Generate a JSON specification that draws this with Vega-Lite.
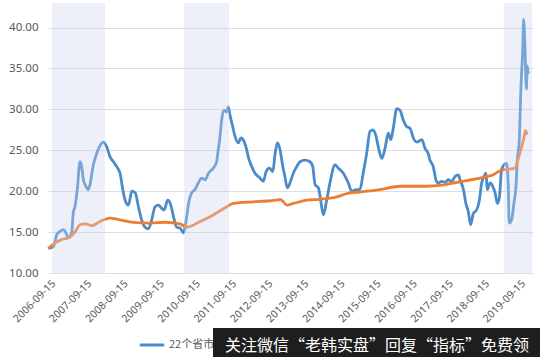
{
  "$schema": "https://vega.github.io/schema/vega-lite/v6.json",
  "width": 485,
  "height": 270,
  "autosize": "none",
  "padding": {"left": 48, "top": 3, "right": 7, "bottom": 84},
  "background": "white",
  "config": {"view": {"stroke": null}, "font": "Noto Sans", "axisX": {"labelOverlap": false}},
  "encoding": {
    "x": {
      "field": "d", "type": "temporal",
      "scale": {"type": "utc", "domain": [{"year": 2006, "month": 8, "date": 25, "utc": true}, {"year": 2020, "month": 1, "date": 25, "utc": true}]},
      "axis": {
        "title": null, "grid": false, "ticks": false, "domain": false,
        "labelOverlap": false, "labelBound": false,
        "values": [
          "2006-09-15", "2007-09-15", "2008-09-15", "2009-09-15", "2010-09-15",
          "2011-09-15", "2012-09-15", "2013-09-15", "2014-09-15", "2015-09-15",
          "2016-09-15", "2017-09-15", "2018-09-15", "2019-09-15"
        ],
        "format": "%Y-%m-%d", "labelAngle": -45, "labelFontSize": 10.5,
        "labelColor": "#595959", "labelPadding": 5, "labelFont": "Noto Sans"
      }
    }
  },
  "layer": [
    {
      "data": {"values": [
        {"d": "2006-08-28", "v": 13.0, "s": "22个省市生猪平均价格"},
        {"d": "2006-10-18", "v": 13.2, "s": "22个省市生猪平均价格"},
        {"d": "2006-11-22", "v": 14.7, "s": "22个省市生猪平均价格"},
        {"d": "2006-12-25", "v": 15.1, "s": "22个省市生猪平均价格"},
        {"d": "2007-01-28", "v": 15.3, "s": "22个省市生猪平均价格"},
        {"d": "2007-03-02", "v": 14.7, "s": "22个省市生猪平均价格"},
        {"d": "2007-03-18", "v": 14.3, "s": "22个省市生猪平均价格"},
        {"d": "2007-04-21", "v": 14.9, "s": "22个省市生猪平均价格"},
        {"d": "2007-05-07", "v": 17.3, "s": "22个省市生猪平均价格"},
        {"d": "2007-05-24", "v": 18.1, "s": "22个省市生猪平均价格"},
        {"d": "2007-06-17", "v": 20.2, "s": "22个省市生猪平均价格"},
        {"d": "2007-07-14", "v": 23.6, "s": "22个省市生猪平均价格"},
        {"d": "2007-08-01", "v": 23.0, "s": "22个省市生猪平均价格"},
        {"d": "2007-08-17", "v": 21.4, "s": "22个省市生猪平均价格"},
        {"d": "2007-09-04", "v": 20.8, "s": "22个省市生猪平均价格"},
        {"d": "2007-10-06", "v": 20.2, "s": "22个省市生猪平均价格"},
        {"d": "2007-10-23", "v": 20.8, "s": "22个省市生猪平均价格"},
        {"d": "2007-11-26", "v": 23.2, "s": "22个省市生猪平均价格"},
        {"d": "2007-12-30", "v": 24.6, "s": "22个省市生猪平均价格"},
        {"d": "2008-02-03", "v": 25.6, "s": "22个省市生猪平均价格"},
        {"d": "2008-03-06", "v": 26.0, "s": "22个省市生猪平均价格"},
        {"d": "2008-04-10", "v": 25.4, "s": "22个省市生猪平均价格"},
        {"d": "2008-05-13", "v": 24.2, "s": "22个省市生猪平均价格"},
        {"d": "2008-06-16", "v": 23.6, "s": "22个省市生猪平均价格"},
        {"d": "2008-07-19", "v": 23.0, "s": "22个省市生猪平均价格"},
        {"d": "2008-08-22", "v": 22.2, "s": "22个省市生猪平均价格"},
        {"d": "2008-09-19", "v": 20.2, "s": "22个省市生猪平均价格"},
        {"d": "2008-10-12", "v": 18.9, "s": "22个省市生猪平均价格"},
        {"d": "2008-11-15", "v": 18.3, "s": "22个省市生猪平均价格"},
        {"d": "2008-12-19", "v": 20.0, "s": "22个省市生猪平均价格"},
        {"d": "2009-01-22", "v": 19.8, "s": "22个省市生猪平均价格"},
        {"d": "2009-02-24", "v": 18.1, "s": "22个省市生猪平均价格"},
        {"d": "2009-03-28", "v": 16.5, "s": "22个省市生猪平均价格"},
        {"d": "2009-05-01", "v": 15.6, "s": "22个省市生猪平均价格"},
        {"d": "2009-06-04", "v": 15.4, "s": "22个省市生猪平均价格"},
        {"d": "2009-07-08", "v": 16.5, "s": "22个省市生猪平均价格"},
        {"d": "2009-08-11", "v": 18.1, "s": "22个省市生猪平均价格"},
        {"d": "2009-09-14", "v": 18.3, "s": "22个省市生猪平均价格"},
        {"d": "2009-10-17", "v": 17.9, "s": "22个省市生猪平均价格"},
        {"d": "2009-11-10", "v": 17.7, "s": "22个省市生猪平均价格"},
        {"d": "2009-12-17", "v": 18.9, "s": "22个省市生猪平均价格"},
        {"d": "2010-01-17", "v": 18.3, "s": "22个省市生猪平均价格"},
        {"d": "2010-02-13", "v": 16.9, "s": "22个省市生猪平均价格"},
        {"d": "2010-03-17", "v": 15.6, "s": "22个省市生猪平均价格"},
        {"d": "2010-04-20", "v": 15.5, "s": "22个省市生猪平均价格"},
        {"d": "2010-05-23", "v": 14.9, "s": "22个省市生猪平均价格"},
        {"d": "2010-06-27", "v": 16.9, "s": "22个省市生猪平均价格"},
        {"d": "2010-07-13", "v": 18.3, "s": "22个省市生猪平均价格"},
        {"d": "2010-08-16", "v": 19.8, "s": "22个省市生猪平均价格"},
        {"d": "2010-09-19", "v": 20.2, "s": "22个省市生猪平均价格"},
        {"d": "2010-10-22", "v": 21.0, "s": "22个省市生猪平均价格"},
        {"d": "2010-11-26", "v": 21.6, "s": "22个省市生猪平均价格"},
        {"d": "2010-12-29", "v": 21.4, "s": "22个省市生猪平均价格"},
        {"d": "2011-02-01", "v": 22.2, "s": "22个省市生猪平均价格"},
        {"d": "2011-03-22", "v": 22.8, "s": "22个省市生猪平均价格"},
        {"d": "2011-04-25", "v": 23.6, "s": "22个省市生猪平均价格"},
        {"d": "2011-05-11", "v": 25.0, "s": "22个省市生猪平均价格"},
        {"d": "2011-05-28", "v": 26.5, "s": "22个省市生猪平均价格"},
        {"d": "2011-06-15", "v": 28.7, "s": "22个省市生猪平均价格"},
        {"d": "2011-07-08", "v": 29.9, "s": "22个省市生猪平均价格"},
        {"d": "2011-08-05", "v": 29.7, "s": "22个省市生猪平均价格"},
        {"d": "2011-08-21", "v": 30.3, "s": "22个省市生猪平均价格"},
        {"d": "2011-09-07", "v": 29.3, "s": "22个省市生猪平均价格"},
        {"d": "2011-10-04", "v": 27.9, "s": "22个省市生猪平均价格"},
        {"d": "2011-10-28", "v": 26.7, "s": "22个省市生猪平均价格"},
        {"d": "2011-11-30", "v": 25.9, "s": "22个省市生猪平均价格"},
        {"d": "2011-12-27", "v": 26.5, "s": "22个省市生猪平均价格"},
        {"d": "2012-01-30", "v": 26.0, "s": "22个省市生猪平均价格"},
        {"d": "2012-02-24", "v": 25.0, "s": "22个省市生猪平均价格"},
        {"d": "2012-03-10", "v": 24.2, "s": "22个省市生猪平均价格"},
        {"d": "2012-04-14", "v": 23.0, "s": "22个省市生猪平均价格"},
        {"d": "2012-05-17", "v": 22.2, "s": "22个省市生猪平均价格"},
        {"d": "2012-07-06", "v": 21.6, "s": "22个省市生猪平均价格"},
        {"d": "2012-08-09", "v": 21.2, "s": "22个省市生猪平均价格"},
        {"d": "2012-09-06", "v": 22.4, "s": "22个省市生猪平均价格"},
        {"d": "2012-10-09", "v": 22.8, "s": "22个省市生猪平均价格"},
        {"d": "2012-11-13", "v": 22.4, "s": "22个省市生猪平均价格"},
        {"d": "2012-12-06", "v": 24.6, "s": "22个省市生猪平均价格"},
        {"d": "2012-12-29", "v": 25.9, "s": "22个省市生猪平均价格"},
        {"d": "2013-01-26", "v": 25.0, "s": "22个省市生猪平均价格"},
        {"d": "2013-02-22", "v": 23.0, "s": "22个省市生猪平均价格"},
        {"d": "2013-03-15", "v": 21.8, "s": "22个省市生猪平均价格"},
        {"d": "2013-04-08", "v": 20.4, "s": "22个省市生猪平均价格"},
        {"d": "2013-05-05", "v": 21.0, "s": "22个省市生猪平均价格"},
        {"d": "2013-06-08", "v": 22.2, "s": "22个省市生猪平均价格"},
        {"d": "2013-07-12", "v": 23.0, "s": "22个省市生猪平均价格"},
        {"d": "2013-08-15", "v": 23.6, "s": "22个省市生猪平均价格"},
        {"d": "2013-10-05", "v": 23.8, "s": "22个省市生猪平均价格"},
        {"d": "2013-11-24", "v": 23.6, "s": "22个省市生猪平均价格"},
        {"d": "2013-12-21", "v": 23.0, "s": "22个省市生猪平均价格"},
        {"d": "2014-01-14", "v": 20.8, "s": "22个省市生猪平均价格"},
        {"d": "2014-02-17", "v": 20.4, "s": "22个省市生猪平均价格"},
        {"d": "2014-03-11", "v": 18.9, "s": "22个省市生猪平均价格"},
        {"d": "2014-04-07", "v": 17.1, "s": "22个省市生猪平均价格"},
        {"d": "2014-05-11", "v": 18.9, "s": "22个省市生猪平均价格"},
        {"d": "2014-06-13", "v": 21.0, "s": "22个省市生猪平均价格"},
        {"d": "2014-08-03", "v": 23.2, "s": "22个省市生猪平均价格"},
        {"d": "2014-09-06", "v": 22.8, "s": "22个省市生猪平均价格"},
        {"d": "2014-10-26", "v": 22.2, "s": "22个省市生猪平均价格"},
        {"d": "2014-12-16", "v": 21.0, "s": "22个省市生猪平均价格"},
        {"d": "2015-01-19", "v": 20.0, "s": "22个省市生猪平均价格"},
        {"d": "2015-03-09", "v": 20.2, "s": "22个省市生猪平均价格"},
        {"d": "2015-04-12", "v": 20.2, "s": "22个省市生猪平均价格"},
        {"d": "2015-05-15", "v": 22.2, "s": "22个省市生猪平均价格"},
        {"d": "2015-06-19", "v": 24.6, "s": "22个省市生猪平均价格"},
        {"d": "2015-07-22", "v": 27.3, "s": "22个省市生猪平均价格"},
        {"d": "2015-08-25", "v": 27.5, "s": "22个省市生猪平均价格"},
        {"d": "2015-09-22", "v": 26.7, "s": "22个省市生猪平均价格"},
        {"d": "2015-10-15", "v": 25.4, "s": "22个省市生猪平均价格"},
        {"d": "2015-11-19", "v": 24.0, "s": "22个省市生猪平均价格"},
        {"d": "2015-12-21", "v": 25.2, "s": "22个省市生猪平均价格"},
        {"d": "2016-01-24", "v": 27.1, "s": "22个省市生猪平均价格"},
        {"d": "2016-02-18", "v": 26.3, "s": "22个省市生猪平均价格"},
        {"d": "2016-03-14", "v": 27.7, "s": "22个省市生猪平均价格"},
        {"d": "2016-04-18", "v": 30.1, "s": "22个省市生猪平均价格"},
        {"d": "2016-05-21", "v": 29.9, "s": "22个省市生猪平均价格"},
        {"d": "2016-06-23", "v": 28.7, "s": "22个省市生猪平均价格"},
        {"d": "2016-07-27", "v": 27.9, "s": "22个省市生猪平均价格"},
        {"d": "2016-08-30", "v": 27.7, "s": "22个省市生猪平均价格"},
        {"d": "2016-10-03", "v": 26.5, "s": "22个省市生猪平均价格"},
        {"d": "2016-11-07", "v": 26.0, "s": "22个省市生猪平均价格"},
        {"d": "2016-12-27", "v": 26.3, "s": "22个省市生猪平均价格"},
        {"d": "2017-01-30", "v": 25.2, "s": "22个省市生猪平均价格"},
        {"d": "2017-03-02", "v": 24.6, "s": "22个省市生猪平均价格"},
        {"d": "2017-03-20", "v": 23.8, "s": "22个省市生猪平均价格"},
        {"d": "2017-04-22", "v": 23.0, "s": "22个省市生猪平均价格"},
        {"d": "2017-05-19", "v": 21.4, "s": "22个省市生猪平均价格"},
        {"d": "2017-06-12", "v": 21.0, "s": "22个省市生猪平均价格"},
        {"d": "2017-07-16", "v": 21.2, "s": "22个省市生猪平均价格"},
        {"d": "2017-08-19", "v": 21.1, "s": "22个省市生猪平均价格"},
        {"d": "2017-09-22", "v": 21.4, "s": "22个省市生猪平均价格"},
        {"d": "2017-10-26", "v": 21.2, "s": "22个省市生猪平均价格"},
        {"d": "2017-11-28", "v": 21.8, "s": "22个省市生猪平均价格"},
        {"d": "2018-01-01", "v": 22.0, "s": "22个省市生猪平均价格"},
        {"d": "2018-01-18", "v": 21.4, "s": "22个省市生猪平均价格"},
        {"d": "2018-02-21", "v": 20.2, "s": "22个省市生猪平均价格"},
        {"d": "2018-03-18", "v": 18.5, "s": "22个省市生猪平均价格"},
        {"d": "2018-04-11", "v": 17.5, "s": "22个省市生猪平均价格"},
        {"d": "2018-05-05", "v": 15.9, "s": "22个省市生猪平均价格"},
        {"d": "2018-06-01", "v": 17.3, "s": "22个省市生猪平均价格"},
        {"d": "2018-07-04", "v": 17.7, "s": "22个省市生猪平均价格"},
        {"d": "2018-08-01", "v": 18.9, "s": "22个省市生猪平均价格"},
        {"d": "2018-08-24", "v": 21.0, "s": "22个省市生猪平均价格"},
        {"d": "2018-09-17", "v": 21.8, "s": "22个省市生猪平均价格"},
        {"d": "2018-10-07", "v": 22.2, "s": "22个省市生猪平均价格"},
        {"d": "2018-10-20", "v": 20.2, "s": "22个省市生猪平均价格"},
        {"d": "2018-11-17", "v": 21.0, "s": "22个省市生猪平均价格"},
        {"d": "2018-12-14", "v": 20.6, "s": "22个省市生猪平均价格"},
        {"d": "2019-01-07", "v": 19.8, "s": "22个省市生猪平均价格"},
        {"d": "2019-01-30", "v": 18.5, "s": "22个省市生猪平均价格"},
        {"d": "2019-02-20", "v": 19.3, "s": "22个省市生猪平均价格"},
        {"d": "2019-03-13", "v": 22.6, "s": "22个省市生猪平均价格"},
        {"d": "2019-04-06", "v": 23.2, "s": "22个省市生猪平均价格"},
        {"d": "2019-05-03", "v": 23.4, "s": "22个省市生猪平均价格"},
        {"d": "2019-05-19", "v": 21.0, "s": "22个省市生猪平均价格"},
        {"d": "2019-05-30", "v": 16.1, "s": "22个省市生猪平均价格"},
        {"d": "2019-06-23", "v": 16.5, "s": "22个省市生猪平均价格"},
        {"d": "2019-07-16", "v": 18.5, "s": "22个省市生猪平均价格"},
        {"d": "2019-08-06", "v": 20.6, "s": "22个省市生猪平均价格"},
        {"d": "2019-08-19", "v": 23.8, "s": "22个省市生猪平均价格"},
        {"d": "2019-09-09", "v": 26.3, "s": "22个省市生猪平均价格"},
        {"d": "2019-09-16", "v": 29.0, "s": "22个省市生猪平均价格"},
        {"d": "2019-09-26", "v": 33.0, "s": "22个省市生猪平均价格"},
        {"d": "2019-10-13", "v": 37.2, "s": "22个省市生猪平均价格"},
        {"d": "2019-10-22", "v": 41.0, "s": "22个省市生猪平均价格"},
        {"d": "2019-11-05", "v": 37.5, "s": "22个省市生猪平均价格"},
        {"d": "2019-11-19", "v": 32.5, "s": "22个省市生猪平均价格"},
        {"d": "2019-11-28", "v": 35.3, "s": "22个省市生猪平均价格"},
        {"d": "2019-12-08", "v": 34.3, "s": "22个省市生猪平均价格"},
        {"d": "2006-08-28", "v": 13.0, "s": "生猪长期均价"},
        {"d": "2006-10-15", "v": 13.5, "s": "生猪长期均价"},
        {"d": "2006-12-25", "v": 14.0, "s": "生猪长期均价"},
        {"d": "2007-04-04", "v": 14.4, "s": "生猪长期均价"},
        {"d": "2007-05-24", "v": 15.0, "s": "生猪长期均价"},
        {"d": "2007-07-14", "v": 15.9, "s": "生猪长期均价"},
        {"d": "2007-09-04", "v": 16.0, "s": "生猪长期均价"},
        {"d": "2007-11-13", "v": 15.8, "s": "生猪长期均价"},
        {"d": "2008-02-03", "v": 16.3, "s": "生猪长期均价"},
        {"d": "2008-05-13", "v": 16.7, "s": "生猪长期均价"},
        {"d": "2008-08-22", "v": 16.5, "s": "生猪长期均价"},
        {"d": "2009-01-02", "v": 16.2, "s": "生猪长期均价"},
        {"d": "2009-06-21", "v": 16.1, "s": "生猪长期均价"},
        {"d": "2009-11-20", "v": 16.2, "s": "生猪长期均价"},
        {"d": "2010-04-20", "v": 16.0, "s": "生猪长期均价"},
        {"d": "2010-06-29", "v": 15.6, "s": "生猪长期均价"},
        {"d": "2010-11-09", "v": 16.3, "s": "生猪长期均价"},
        {"d": "2011-03-22", "v": 17.1, "s": "生猪长期均价"},
        {"d": "2011-08-05", "v": 18.1, "s": "生猪长期均价"},
        {"d": "2011-10-10", "v": 18.5, "s": "生猪长期均价"},
        {"d": "2012-04-30", "v": 18.7, "s": "生猪长期均价"},
        {"d": "2012-09-13", "v": 18.8, "s": "生猪长期均价"},
        {"d": "2012-12-23", "v": 18.9, "s": "生猪长期均价"},
        {"d": "2013-01-26", "v": 19.0, "s": "生猪长期均价"},
        {"d": "2013-02-28", "v": 18.7, "s": "生猪长期均价"},
        {"d": "2013-04-02", "v": 18.3, "s": "生猪长期均价"},
        {"d": "2013-06-08", "v": 18.5, "s": "生猪长期均价"},
        {"d": "2013-10-21", "v": 18.9, "s": "生猪长期均价"},
        {"d": "2014-03-04", "v": 19.0, "s": "生猪长期均价"},
        {"d": "2014-08-20", "v": 19.3, "s": "生猪长期均价"},
        {"d": "2014-11-30", "v": 19.7, "s": "生猪长期均价"},
        {"d": "2015-04-12", "v": 19.9, "s": "生猪长期均价"},
        {"d": "2015-11-01", "v": 20.2, "s": "生猪长期均价"},
        {"d": "2016-05-21", "v": 20.6, "s": "生猪长期均价"},
        {"d": "2017-02-16", "v": 20.6, "s": "生猪长期均价"},
        {"d": "2017-06-28", "v": 20.7, "s": "生猪长期均价"},
        {"d": "2017-11-11", "v": 21.0, "s": "生猪长期均价"},
        {"d": "2018-03-25", "v": 21.3, "s": "生猪长期均价"},
        {"d": "2018-08-07", "v": 21.6, "s": "生猪长期均价"},
        {"d": "2018-10-14", "v": 21.8, "s": "生猪长期均价"},
        {"d": "2018-12-20", "v": 22.0, "s": "生猪长期均价"},
        {"d": "2019-02-10", "v": 22.4, "s": "生猪长期均价"},
        {"d": "2019-03-29", "v": 22.6, "s": "生猪长期均价"},
        {"d": "2019-06-06", "v": 22.7, "s": "生猪长期均价"},
        {"d": "2019-07-26", "v": 22.8, "s": "生猪长期均价"},
        {"d": "2019-08-29", "v": 24.0, "s": "生猪长期均价"},
        {"d": "2019-10-02", "v": 25.4, "s": "生猪长期均价"},
        {"d": "2019-10-25", "v": 26.5, "s": "生猪长期均价"},
        {"d": "2019-11-08", "v": 27.4, "s": "生猪长期均价"},
        {"d": "2019-11-28", "v": 26.9, "s": "生猪长期均价"}
      ]},
      "mark": {"type": "line", "strokeWidth": 2.8, "interpolate": "monotone"},
      "encoding": {
        "y": {
          "field": "v", "type": "quantitative",
          "scale": {"domain": [10, 43], "nice": false},
          "axis": {
            "title": null, "ticks": false, "domain": false,
            "values": [10, 15, 20, 25, 30, 35, 40], "format": ".2f",
            "labelFontSize": 11.5, "labelColor": "#595959", "labelPadding": 10,
            "gridColor": "#dedede", "gridWidth": 1, "labelFont": "Noto Sans"
          }
        },
        "color": {
          "field": "s", "type": "nominal",
          "scale": {"domain": ["22个省市生猪平均价格", "生猪长期均价"], "range": ["#4a8bca", "#ed7d31"]},
          "legend": {
            "title": null, "orient": "none", "legendX": 90, "legendY": 328,
            "direction": "horizontal", "values": ["22个省市生猪平均价格"],
            "symbolType": "stroke", "symbolSize": 600, "symbolStrokeWidth": 3,
            "labelFontSize": 11, "labelColor": "#595959", "labelOffset": 3, "padding": 0,
            "labelFont": "Noto Sans CJK SC"
          }
        }
      }
    },
    {
      "data": {"values": [
        {"d": "2006-10-05", "d2": "2008-03-23"},
        {"d": "2010-05-30", "d2": "2011-08-28"},
        {"d": "2019-04-06", "d2": "2020-01-15"}
      ]},
      "mark": {"type": "rect", "color": "#cfd5ee", "opacity": 0.35},
      "encoding": {
        "x2": {"field": "d2"}
      }
    },
    {
      "data": {"values": [{"note": "关注微信“老韩实盘”回复“指标”免费领"}]},
      "mark": {"type": "point", "opacity": 0, "size": 0},
      "encoding": {
        "x": {"value": 0},
        "shape": {
          "field": "note", "type": "nominal",
          "legend": {
            "title": null, "orient": "none", "legendX": 165, "legendY": 325,
            "fillColor": "#1e1e1e", "padding": 10, "labelColor": "#ffffff",
            "labelFontSize": 16, "labelFont": "Noto Sans CJK SC", "labelLimit": 600,
            "symbolSize": 0, "symbolOpacity": 0, "symbolStrokeWidth": 0, "labelOffset": -14
          }
        }
      }
    }
  ]
}
